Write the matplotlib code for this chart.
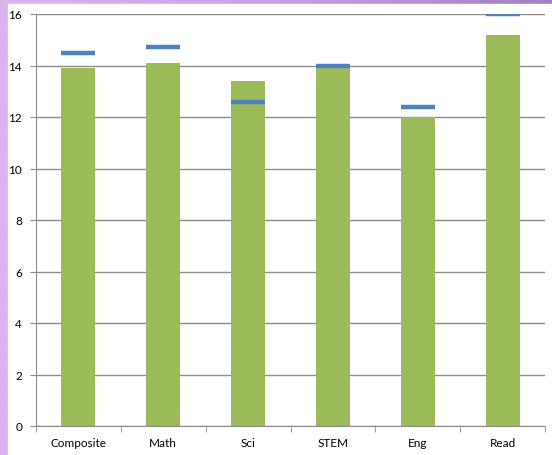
import numpy as np
import matplotlib.pyplot as plt
from matplotlib.colors import LinearSegmentedColormap

categories = ['Composite', 'Math', 'Sci', 'STEM', 'Eng', 'Read']
bar_values = [13.9, 14.1, 13.4, 13.95, 12.0, 15.2]
line_values = [14.5, 14.7, 12.6, 14.0, 12.4, 16.0]

plt.rcParams['font.family'] = ['Lato', 'DejaVu Sans']

fig = plt.figure(figsize=(5.52, 4.56), dpi=100)

# purple gradient frame behind the white chart area
bg = fig.add_axes([0, 0, 1, 1])
cmap = LinearSegmentedColormap.from_list('frame', ['#dcb4f2', '#c9a0e6', '#a17fc0'])
grad = np.linspace(0, 1, 256).reshape(1, -1)
bg.imshow(grad, aspect='auto', cmap=cmap, extent=[0, 1, 0, 1])
bg.add_patch(plt.Rectangle((8 / 552, 0), 1, 1 - 5 / 456, color='white', transform=bg.transAxes))
bg.set_axis_off()

ax = fig.add_axes([36 / 552, 1 - 427 / 456, 509 / 552, 412 / 456])
ax.set_facecolor('none')
x = np.arange(len(categories))
ax.bar(x, bar_values, width=0.4, color='#9bbb59', zorder=2)
ax.hlines(line_values, x - 0.2, x + 0.2, color='#4f81bd', linewidth=3.2, zorder=3)

ax.set_xlim(-0.5, len(categories) - 0.5)
ax.set_ylim(0, 16)
ax.set_yticks(range(0, 17, 2))
ax.yaxis.grid(True, color='#8c8c8c', linewidth=1)
ax.set_axisbelow(True)

ax.set_xticks(x)
ax.set_xticklabels(categories)
ax.set_xticks(np.arange(-0.5, len(categories)), minor=True)
ax.tick_params(axis='x', which='major', length=0, pad=8, labelsize=8.5)
ax.tick_params(axis='x', which='minor', length=4, color='#8c8c8c')
ax.tick_params(axis='y', length=4, color='#8c8c8c', labelsize=8.5, pad=6)

for s in ['top', 'right']:
    ax.spines[s].set_visible(False)
for s in ['left', 'bottom']:
    ax.spines[s].set_color('#8c8c8c')

fig.savefig('out.png', dpi=100)
